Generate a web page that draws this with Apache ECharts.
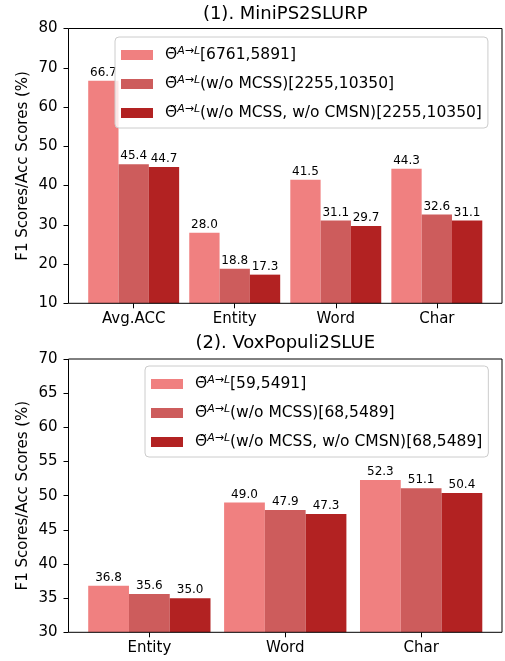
<!DOCTYPE html>
<html>
<head>
<meta charset="utf-8">
<script src="https://cdn.jsdelivr.net/npm/echarts@6/dist/echarts.min.js"></script>
<style>
html,body{margin:0;padding:0;background:#fff;}
#chart{width:505px;height:661px;}
</style>
</head>
<body>
<div id="chart"></div>
<script>
// ---- data ----
const topTitle = '(1). MiniPS2SLURP';
const bottomTitle = '(2). VoxPopuli2SLUE';
const yAxisLabel = 'F1 Scores/Acc Scores (%)';
const topCategories = ['Avg.ACC', 'Entity', 'Word', 'Char'];
const topFull = [66.7, 28.0, 41.5, 44.3];
const topNoMCSS = [45.4, 18.8, 31.1, 32.6];
const topNoMCSSNoCMSN = [44.7, 17.3, 29.7, 31.1];
const bottomCategories = ['Entity', 'Word', 'Char'];
const bottomFull = [36.8, 49.0, 52.3];
const bottomNoMCSS = [35.6, 47.9, 51.1];
const bottomNoMCSSNoCMSN = [35.0, 47.3, 50.4];
const legendPrefix = 'Θ\u0303';
const legendSup = 'A→L';
const topLegendSuffix = ['[6761,5891]', '(w/o MCSS)[2255,10350]', '(w/o MCSS, w/o CMSN)[2255,10350]'];
const bottomLegendSuffix = ['[59,5491]', '(w/o MCSS)[68,5489]', '(w/o MCSS, w/o CMSN)[68,5489]'];
const topYRange = [10, 80, 10];
const bottomYRange = [30, 70, 5];
const colors = ['#F08080', '#CD5C5C', '#B22222'];

// ---- layout ----
const FONT = 'DejaVu Sans';
const axL = 68.5, axW = 433.5;
const topT = 28.5, topH = 274.8;
const botT = 359, botH = 273.3;
const topUnit = axW / 4.29, botUnit = axW / 3.19;
const topOff = (0.645 - 0.5) * topUnit;
const botOff = (0.595 - 0.5) * botUnit;

const topNames = topLegendSuffix.map(s => legendPrefix + legendSup + s);
const bottomNames = bottomLegendSuffix.map(s => legendPrefix + legendSup + s);

function legendFormatter(name) {
  const suffix = name.slice((legendPrefix + legendSup).length);
  return '{t|' + legendPrefix + '}{s|' + legendSup + '}{n|' + suffix + '}';
}
const legendRich = {
  t: {fontSize: 15.5, fontFamily: FONT, color: '#000', lineHeight: 18, padding: [0, 0, 0, 7]},
  s: {fontSize: 11, fontFamily: FONT, fontStyle: 'italic', color: '#000', lineHeight: 11, verticalAlign: 'top'},
  n: {fontSize: 15.5, fontFamily: FONT, color: '#000', lineHeight: 18}
};
function makeLegend(names, left, top) {
  return {
    data: names, orient: 'vertical', left: left, top: top,
    icon: 'rect', itemWidth: 32, itemHeight: 10, itemGap: 11,
    padding: [9, 6, 6, 6],
    borderColor: '#cccccc', borderWidth: 1, borderRadius: 4,
    backgroundColor: 'rgba(255,255,255,0.8)',
    selectedMode: false,
    formatter: legendFormatter,
    textStyle: {fontSize: 15.5, fontFamily: FONT, color: '#000', lineHeight: 18, rich: legendRich}
  };
}

const labelCfg = {
  show: true, position: 'top', distance: 2,
  fontSize: 12, fontFamily: FONT, color: '#000',
  formatter: p => p.value.toFixed(1)
};
function makeSeries(name, data, idx, color, bw) {
  return {
    type: 'bar', name: name, data: data,
    xAxisIndex: idx, yAxisIndex: idx,
    barWidth: bw, barGap: '0%',
    itemStyle: {color: color},
    label: labelCfg
  };
}
function makeYAxis(idx, range, off) {
  return {
    gridIndex: idx, type: 'value', min: range[0], max: range[1], interval: range[2],
    offset: off,
    name: yAxisLabel, nameLocation: 'middle', nameGap: 38, nameMoveOverlap: false,
    nameTextStyle: {fontSize: 15, fontFamily: FONT, color: '#000'},
    axisLine: {show: false},
    axisTick: {show: true, length: 5, lineStyle: {color: '#000', width: 1}},
    axisLabel: {fontSize: 15, fontFamily: FONT, color: '#000', margin: 11},
    splitLine: {show: false}
  };
}
function makeXAxis(idx, cats) {
  return {
    gridIndex: idx, type: 'category', data: cats,
    axisLine: {show: false},
    axisTick: {show: true, alignWithLabel: true, length: 5, lineStyle: {color: '#000', width: 1}},
    axisLabel: {fontSize: 15, fontFamily: FONT, color: '#000', margin: 8},
    splitLine: {show: false}
  };
}

const option = {
  animation: false,
  backgroundColor: '#fff',
  textStyle: {fontFamily: FONT},
  grid: [
    {left: axL + topOff, top: topT, width: 4 * topUnit, height: topH},
    {left: axL + botOff, top: botT, width: 3 * botUnit, height: botH},
    {left: axL, top: topT, width: axW, height: topH, show: true, z: 5, borderColor: '#000', borderWidth: 1, backgroundColor: 'transparent'},
    {left: axL, top: botT, width: axW, height: botH, show: true, z: 5, borderColor: '#000', borderWidth: 1, backgroundColor: 'transparent'}
  ],
  xAxis: [
    makeXAxis(0, topCategories),
    makeXAxis(1, bottomCategories),
    {gridIndex: 2, type: 'value', show: false},
    {gridIndex: 3, type: 'value', show: false}
  ],
  yAxis: [
    makeYAxis(0, topYRange, topOff),
    makeYAxis(1, bottomYRange, botOff),
    {gridIndex: 2, type: 'value', show: false},
    {gridIndex: 3, type: 'value', show: false}
  ],
  legend: [
    makeLegend(topNames, 115, 37),
    makeLegend(bottomNames, 145, 366)
  ],
  graphic: [
    {type: 'text', x: axL + axW / 2, y: 14, style: {text: topTitle, fontSize: 18, fontFamily: FONT, fill: '#000', align: 'center', verticalAlign: 'middle'}},
    {type: 'text', x: axL + axW / 2, y: 343, style: {text: bottomTitle, fontSize: 18, fontFamily: FONT, fill: '#000', align: 'center', verticalAlign: 'middle'}}
  ],
  series: [
    makeSeries(topNames[0], topFull, 0, colors[0], 0.3 * topUnit),
    makeSeries(topNames[1], topNoMCSS, 0, colors[1], 0.3 * topUnit),
    makeSeries(topNames[2], topNoMCSSNoCMSN, 0, colors[2], 0.3 * topUnit),
    makeSeries(bottomNames[0], bottomFull, 1, colors[0], 0.3 * botUnit),
    makeSeries(bottomNames[1], bottomNoMCSS, 1, colors[1], 0.3 * botUnit),
    makeSeries(bottomNames[2], bottomNoMCSSNoCMSN, 1, colors[2], 0.3 * botUnit)
  ]
};
const chart = echarts.init(document.getElementById('chart'), null, {renderer: 'canvas'});
chart.setOption(option);
</script>
</body>
</html>
